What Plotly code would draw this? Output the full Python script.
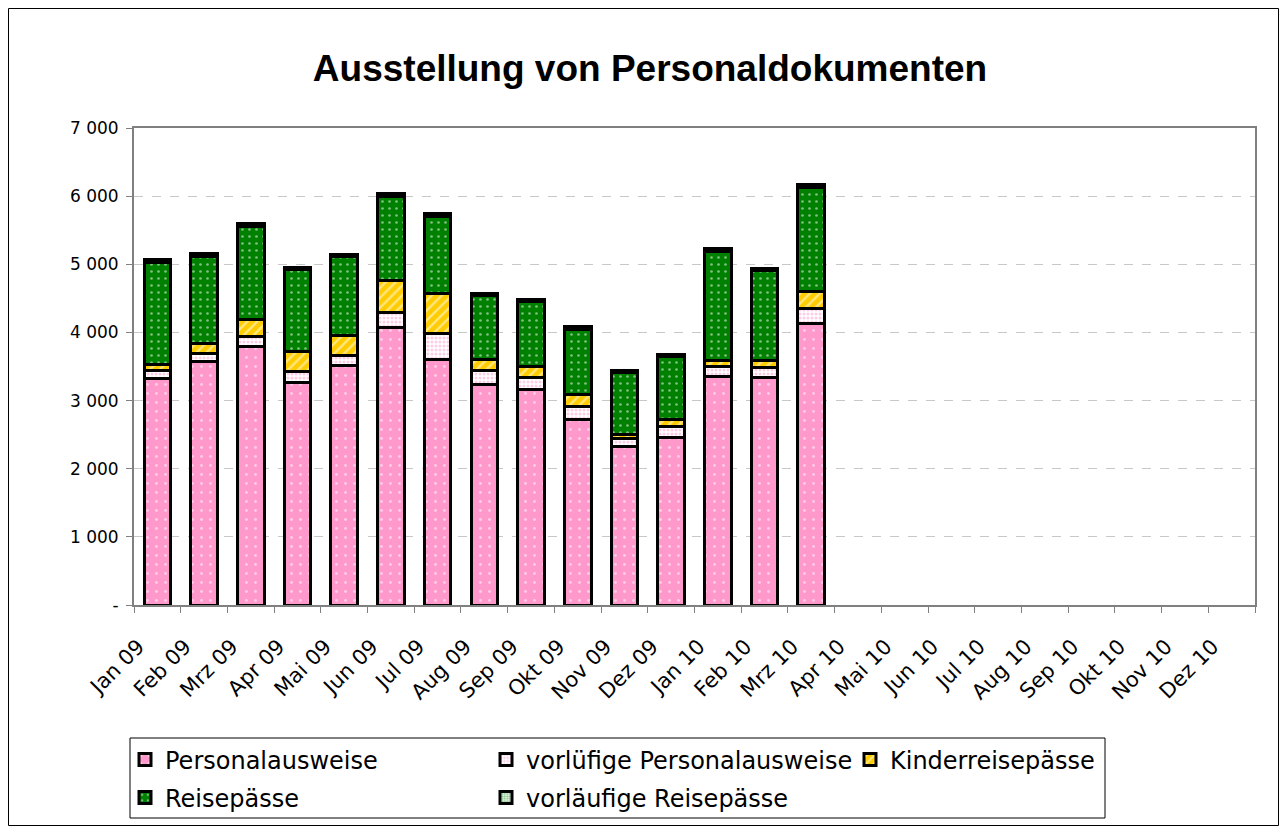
import plotly.graph_objects as go

months = ["Jan 09", "Feb 09", "Mrz 09", "Apr 09", "Mai 09", "Jun 09", "Jul 09", "Aug 09",
          "Sep 09", "Okt 09", "Nov 09", "Dez 09", "Jan 10", "Feb 10", "Mrz 10", "Apr 10",
          "Mai 10", "Jun 10", "Jul 10", "Aug 10", "Sep 10", "Okt 10", "Nov 10", "Dez 10"]

personalausweise = [3330, 3580, 3800, 3265, 3510, 4070, 3605, 3240, 3165, 2725, 2320, 2460,
                    3350, 3340, 4130] + [None] * 9
vorl_personalausweise = [110, 105, 145, 165, 145, 220, 375, 195, 170, 190, 130, 155,
                         145, 145, 220] + [None] * 9
kinderreisepaesse = [90, 155, 245, 285, 295, 475, 590, 170, 165, 175, 55, 100,
                     100, 100, 245] + [None] * 9
reisepaesse = [1500, 1280, 1370, 1210, 1165, 1230, 1125, 940, 955, 955, 905, 935,
               1600, 1320, 1530] + [None] * 9
vorl_reisepaesse = [35, 35, 45, 25, 25, 50, 55, 25, 25, 35, 35, 30,
                    30, 30, 50] + [None] * 9

y_tickvals = [0, 1000, 2000, 3000, 4000, 5000, 6000, 7000]
y_ticktext = ["-", "1 000", "2 000", "3 000", "4 000", "5 000", "6 000", "7 000"]

series = [
    ("Personalausweise", personalausweise,
     dict(shape=".", bgcolor="#FF99CC", fgcolor="#FFFFFF", size=9, solidity=0.08), "legend"),
    ("vorlüfige Personalausweise", vorl_personalausweise,
     dict(shape=".", bgcolor="#FFFFFF", fgcolor="#FF99CC", size=4, solidity=0.45), "legend2"),
    ("Kinderreisepässe", kinderreisepaesse,
     dict(shape="/", bgcolor="#FFCC00", fgcolor="#FFFFFF", size=7, solidity=0.35), "legend3"),
    ("Reisepässe", reisepaesse,
     dict(shape=".", bgcolor="#008000", fgcolor="#FFFFFF", size=7, solidity=0.12), "legend4"),
    ("vorläufige Reisepässe", vorl_reisepaesse,
     dict(shape=".", bgcolor="#FFFFFF", fgcolor="#008000", size=3, solidity=0.5), "legend5"),
]

W, H = 1271, 818
L, R, T, B = 126, 24, 120, 221
PW, PH = W - L - R, H - T - B
OFF = 8  # page body margin

fig = go.Figure()
for name, vals, pat, lg in series:
    fig.add_trace(go.Bar(
        x=months, y=vals, name=name, legend=lg, showlegend=True,
        marker=dict(color=pat["bgcolor"], line=dict(color="black", width=3),
                    pattern=dict(fillmode="overlay", **pat)),
    ))


def legend_at(text_x_page, row_y_page):
    left = text_x_page - OFF - 39
    return dict(orientation="h", xref="container", yref="container",
                x=left / W, xanchor="left",
                y=1 - (row_y_page - OFF) / H, yanchor="middle",
                font=dict(family="DejaVu Sans", size=24, color="black"),
                borderwidth=0, bgcolor="rgba(0,0,0,0)")


fig.update_layout(
    barmode="stack",
    bargap=0.43,
    width=W, height=H,
    showlegend=True,
    margin=dict(l=L, r=R, t=T, b=B, autoexpand=False),
    paper_bgcolor="white", plot_bgcolor="white",
    font=dict(family="DejaVu Sans", size=17, color="black"),
    title=dict(text="<b>Ausstellung von Personaldokumenten</b>",
               font=dict(family="Liberation Sans", size=37, color="black"),
               x=642 / W, xanchor="center", y=1 - 60 / H, yanchor="middle"),
    xaxis=dict(type="category", categoryorder="array", categoryarray=months,
               tickangle=-45, tickson="boundaries", ticks="outside", ticklen=6,
               tickcolor="#808080", showline=True, linecolor="#808080", linewidth=2,
               mirror=True, showgrid=False, tickfont=dict(size=21),
               ticklabelstandoff=19, ticklabelshift=-19, automargin=False),
    yaxis=dict(range=[0, 7000], tickvals=y_tickvals, ticktext=y_ticktext,
               ticks="outside", ticklen=6, tickcolor="#808080",
               showline=True, linecolor="#808080", linewidth=2, mirror=True,
               showgrid=True, gridcolor="#C8C8C8", griddash="dash", gridwidth=1,
               zeroline=False, tickfont=dict(size=17), ticklabelstandoff=4,
               automargin=False),
    legend=legend_at(164, 760),
    legend2=legend_at(525, 760),
    legend3=legend_at(889, 760),
    legend4=legend_at(164, 798),
    legend5=legend_at(525, 798),
    shapes=[
        dict(type="rect", xref="paper", yref="paper",
             x0=(-L + 0.5) / PW, x1=1 + (R - 0.5) / PW,
             y0=(-B + 0.5) / PH, y1=1 + (T - 0.5) / PH,
             line=dict(color="black", width=1), fillcolor="rgba(0,0,0,0)", layer="below"),
        dict(type="rect", xref="paper", yref="paper",
             x0=(130 - OFF - L) / PW, x1=(1105 - OFF - L) / PW,
             y0=(T + PH - (818 - OFF)) / PH, y1=(T + PH - (738 - OFF)) / PH,
             line=dict(color="black", width=1), fillcolor="rgba(0,0,0,0)", layer="below"),
    ],
)

fig.write_html("out.html")
